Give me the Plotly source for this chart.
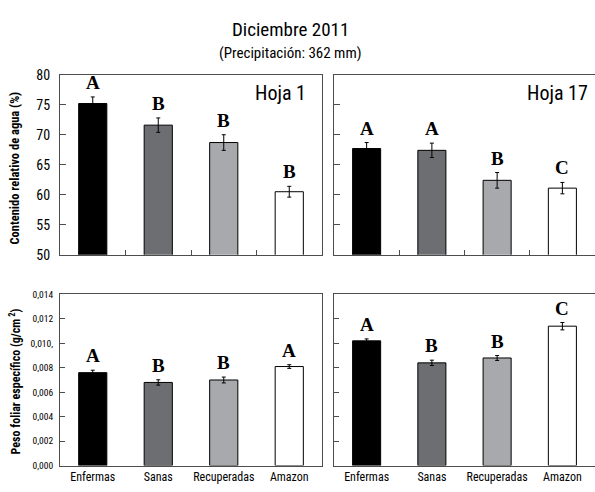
import plotly.graph_objects as go

# Categories and fill colours
categorias = ["Enfermas", "Sanas", "Recuperadas", "Amazon"]
colores = ["#000000", "#6d6e71", "#a7a9ac", "#ffffff"]

# Contenido relativo de agua (%)
cra_hoja1 = [75.2, 71.6, 68.7, 60.5]
cra_hoja1_err = [1.1, 1.2, 1.3, 0.9]
cra_hoja1_letras = ["A", "B", "B", "B"]

cra_hoja17 = [67.7, 67.4, 62.4, 61.1]
cra_hoja17_err = [1.0, 1.2, 1.3, 0.95]
cra_hoja17_letras = ["A", "A", "B", "C"]

# Peso foliar específico (g/cm2)
pfe_hoja1 = [0.0076, 0.0068, 0.0070, 0.0081]
pfe_hoja1_err = [0.0002, 0.00022, 0.00024, 0.00015]
pfe_hoja1_letras = ["A", "B", "B", "A"]

pfe_hoja17 = [0.0102, 0.0084, 0.0088, 0.0114]
pfe_hoja17_err = [0.00016, 0.00022, 0.0002, 0.0003]
pfe_hoja17_letras = ["A", "B", "B", "C"]

# Axis ticks
cra_ticks = [50, 55, 60, 65, 70, 75, 80]
pfe_ticks = [0.0, 0.002, 0.004, 0.006, 0.008, 0.010, 0.012, 0.014]
pfe_ticktext = ["0,000", "0,002", "0,004", "0,006", "0,008", "0,010,", "0,012", "0,014"]

W, H = 595, 492
SANS = "Roboto Condensed, Liberation Sans, Arial, sans-serif"
SERIF = "Liberation Serif, Times New Roman, serif"
FRAME = "#4d4d4d"

fig = go.Figure()

paneles = [
    # (valores, errores, letras, eje x, eje y)
    (cra_hoja1, cra_hoja1_err, cra_hoja1_letras, "x", "y"),
    (cra_hoja17, cra_hoja17_err, cra_hoja17_letras, "x2", "y2"),
    (pfe_hoja1, pfe_hoja1_err, pfe_hoja1_letras, "x3", "y3"),
    (pfe_hoja17, pfe_hoja17_err, pfe_hoja17_letras, "x4", "y4"),
]

for vals, errs, letras, xa, ya in paneles:
    fig.add_trace(go.Bar(
        x=categorias, y=vals, xaxis=xa, yaxis=ya,
        marker=dict(color=colores, line=dict(color="#000000", width=1)),
        error_y=dict(type="data", array=errs, visible=True,
                     color="#000000", thickness=1, width=2),
        showlegend=False,
    ))
    for cat, v, e, letra in zip(categorias, vals, errs, letras):
        fig.add_annotation(
            x=cat, y=v + e, xref=xa, yref=ya, text=letra, showarrow=False,
            yanchor="bottom", yshift=2,
            font=dict(family=SERIF, size=19, color="#000000", weight="bold"),
        )

# Panel domains (paper fractions)
xl = [60 / W, 322 / W]
xr = [334 / W, 1.0]
yt = [1 - 255 / H, 1 - 69 / H]
yb = [1 - 473 / H, 1 - 296 / H]

top_x = dict(showline=True, linecolor=FRAME, linewidth=1, mirror=True,
             ticks="inside", tickson="boundaries", ticklen=5, tickcolor=FRAME,
             showticklabels=False, showgrid=False, zeroline=False)
bot_x = dict(showline=True, linecolor=FRAME, linewidth=1, mirror=True,
             ticks="", showticklabels=True, showgrid=False, zeroline=False,
             tickfont=dict(family=SANS, size=12, color="#000000"))

cra_y = dict(range=[50, 80], tickvals=cra_ticks, showgrid=False, zeroline=False,
             ticks="inside", ticklen=6, tickcolor=FRAME, showline=True,
             linecolor=FRAME, linewidth=1)
pfe_y = dict(range=[0, 0.014], tickvals=pfe_ticks, showgrid=False, zeroline=False,
             ticks="inside", ticklen=5, tickcolor=FRAME, showline=True,
             linecolor=FRAME, linewidth=1)

fig.update_layout(
    width=W, height=H,
    margin=dict(l=0, r=0, t=0, b=0),
    paper_bgcolor="#ffffff", plot_bgcolor="#ffffff",
    bargap=0.57,
    font=dict(family=SANS, color="#000000"),
    xaxis=dict(domain=xl, anchor="y", **top_x),
    xaxis2=dict(domain=xr, anchor="y2", **top_x),
    xaxis3=dict(domain=xl, anchor="y3", **bot_x),
    xaxis4=dict(domain=xr, anchor="y4", **bot_x),
    yaxis=dict(domain=yt, anchor="x", mirror=True, showticklabels=True,
               ticklabelstandoff=6,
               tickfont=dict(family=SANS, size=14, color="#000000"), **cra_y),
    yaxis2=dict(domain=yt, anchor="x2", showticklabels=False, **cra_y),
    yaxis3=dict(domain=yb, anchor="x3", mirror=True, ticktext=pfe_ticktext,
                showticklabels=True, ticklabelstandoff=4,
                tickfont=dict(family=SANS, size=9.5, color="#000000"), **pfe_y),
    yaxis4=dict(domain=yb, anchor="x4", showticklabels=False, **pfe_y),
)

# Titles
fig.add_annotation(x=290 / W, y=1 - 22 / H, xref="paper", yref="paper",
                   text="Diciembre 2011", showarrow=False,
                   xanchor="center", yanchor="middle",
                   font=dict(family=SANS, size=19, color="#000000"))
fig.add_annotation(x=290 / W, y=1 - 46 / H, xref="paper", yref="paper",
                   text="(Precipitación: 362 mm)", showarrow=False,
                   xanchor="center", yanchor="middle",
                   font=dict(family=SANS, size=15, color="#000000"))

# Leaf labels inside the top panels
fig.add_annotation(x=308 / W, y=1 - 88 / H, xref="paper", yref="paper",
                   text="Hoja 1", showarrow=False, xanchor="right", yanchor="middle",
                   font=dict(family=SANS, size=20, color="#000000"))
fig.add_annotation(x=590 / W, y=1 - 88 / H, xref="paper", yref="paper",
                   text="Hoja 17", showarrow=False, xanchor="right", yanchor="middle",
                   font=dict(family=SANS, size=20, color="#000000"))

# Y-axis titles
fig.add_annotation(x=15 / W, y=1 - 166 / H, xref="paper", yref="paper",
                   text="Contenido relativo de agua (%)", showarrow=False,
                   textangle=-90, xanchor="center", yanchor="middle",
                   font=dict(family=SANS, size=12.5, color="#000000", weight="bold"))
fig.add_annotation(x=15 / W, y=1 - 386 / H, xref="paper", yref="paper",
                   text="Peso foliar específico (g/cm<sup> 2</sup>)", showarrow=False,
                   textangle=-90, xanchor="center", yanchor="middle",
                   font=dict(family=SANS, size=12, color="#000000", weight="bold"))

fig.write_html("out.html")
